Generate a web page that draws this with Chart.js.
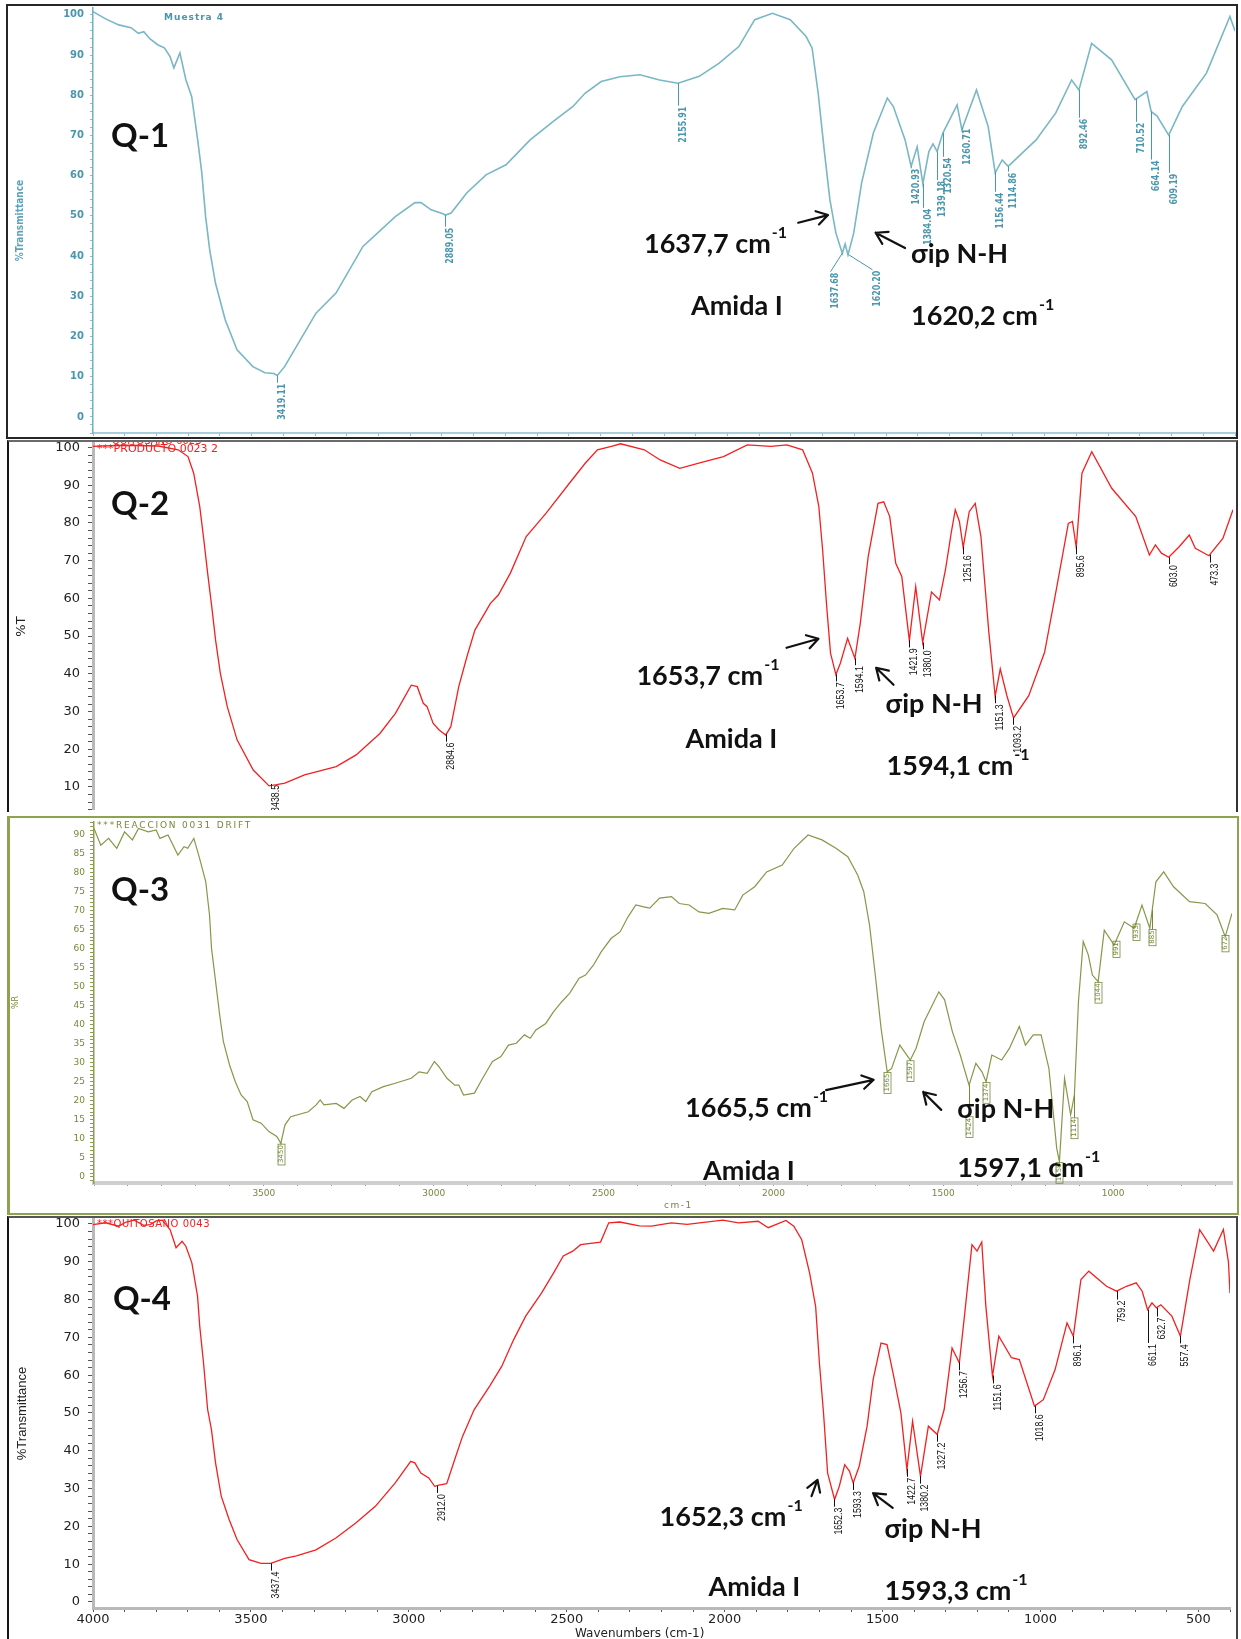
<!DOCTYPE html>
<html>
<head>
<meta charset="utf-8">
<script src="https://cdn.jsdelivr.net/npm/chart.js@4.4.1/dist/chart.umd.min.js"></script>
<style>
  html, body { margin: 0; padding: 0; background: #fff; }
  #page { position: relative; width: 1241px; height: 1639px; overflow: hidden; background: #fff; }
  .frame { position: absolute; box-sizing: border-box; }
  canvas { position: absolute; }
</style>
</head>
<body>
<div id="page">
  <div class="frame" style="left:6px;top:4px;width:1232px;height:435px;border:2px solid #262626;"></div>
  <div class="frame" style="left:7px;top:440px;width:1231px;height:372px;border-top:2px solid #6a6a6a;border-left:2px solid #151515;border-right:2px solid #333;"></div>
  <div class="frame" style="left:7px;top:816px;width:1232px;height:399px;border:2px solid #8ca34f;border-left-width:3px;"></div>
  <div class="frame" style="left:7px;top:1216px;width:1231px;height:430px;border-top:2px solid #555;border-left:2px solid #151515;border-right:2px solid #444;"></div>
</div>
<script>
// ---- spectra (wavenumber cm-1, %T) ----
const q1Wavenumber = [4000,3960,3919,3880,3857,3840,3820,3795,3775,3757,3745,3726,3707,3689,3670,3657,3645,3632,3614,3583,3546,3496,3458,3430,3419,3396,3346,3297,3234,3149,3047,2985,2966,2934,2897,2889,2871,2822,2761,2698,2622,2549,2487,2449,2398,2339,2276,2214,2156,2089,2026,1964,1914,1858,1802,1752,1733,1714,1695,1677,1658,1638,1629,1620,1602,1577,1540,1496,1477,1440,1421,1402,1384,1365,1352,1339,1321,1276,1261,1215,1178,1156,1134,1115,1027,965,915,892,852,789,715,678,664,646,609,566,490,416,400];
const q1Transmittance = [100.8,99.0,97.5,96.8,95.4,95.8,94.0,92.5,91.8,89.6,86.8,90.5,83.8,79.7,68.9,60.7,49.8,41.5,33.3,24.1,16.7,12.5,11.0,10.8,10.3,12.5,19.2,25.8,30.8,42.4,49.8,53.3,53.3,51.5,50.5,50.2,50.7,55.7,60.2,62.7,68.9,73.5,77.2,80.5,83.4,84.6,85.1,83.8,83.0,84.7,88.0,92.1,98.8,100.4,98.8,94.6,91.7,80.5,66.4,54.0,45.7,40.7,43.0,40.3,45.7,58.2,70.6,79.3,77.2,68.9,62.3,67.2,58.0,66.0,67.9,66.0,70.6,77.6,71.4,81.3,72.2,60.7,63.9,62.3,68.9,75.6,83.8,81.3,92.9,88.8,78.9,80.9,75.9,74.9,70.1,77.2,85.5,99.6,96.0];

const q2Wavenumber = [4000,3900,3794,3731,3700,3682,3663,3650,3638,3625,3613,3598,3576,3545,3494,3444,3420,3394,3332,3232,3169,3094,3045,2995,2976,2957,2945,2926,2907,2886,2870,2845,2819,2794,2745,2720,2682,2632,2569,2495,2445,2407,2363,2334,2259,2209,2147,2084,2009,1934,1859,1809,1759,1728,1708,1696,1683,1671,1654,1640,1617,1594,1577,1552,1521,1503,1484,1465,1446,1422,1402,1380,1352,1327,1308,1290,1277,1264,1252,1233,1214,1196,1171,1151,1135,1114,1093,1045,995,958,920,907,895,877,846,783,707,664,645,626,603,570,538,519,476,432,400];
const q2Transmittance = [100.3,100.6,100.4,99.4,97.6,93.2,84.4,75.5,66.7,57.8,49.0,40.2,31.3,22.5,14.5,10.3,10.6,11.0,13.2,15.4,18.5,24.2,29.5,37.0,36.6,32.2,31.3,26.9,25.1,23.8,26.0,36.6,44.6,51.6,58.7,60.9,66.7,76.4,82.6,90.6,95.9,99.4,100.3,101.0,99.4,96.7,94.5,95.9,97.6,100.7,100.3,100.7,99.4,93.2,84.4,72.9,57.8,45.5,39.8,42.8,49.4,44.1,53.4,71.1,85.2,85.6,81.7,69.3,65.8,48.8,63.1,48.3,61.7,59.6,67.6,77.3,83.5,80.4,73.5,83.0,85.2,76.4,51.0,34.0,41.3,34.2,28.3,34.2,45.7,62.3,79.9,80.4,73.5,93.2,98.9,89.2,81.7,71.5,74.2,72.0,70.9,73.7,76.8,73.3,71.3,75.9,83.5];

const q3Wavenumber = [4000,3980,3957,3933,3910,3887,3869,3840,3817,3806,3782,3753,3735,3724,3706,3689,3671,3660,3654,3642,3630,3619,3601,3584,3567,3549,3532,3508,3485,3462,3450,3438,3421,3369,3346,3334,3323,3287,3264,3240,3217,3200,3182,3148,3113,3066,3043,3019,2998,2984,2961,2938,2926,2912,2880,2856,2827,2802,2780,2757,2733,2716,2699,2670,2647,2623,2600,2572,2553,2530,2507,2478,2451,2428,2405,2382,2364,2335,2300,2277,2248,2219,2190,2149,2114,2090,2055,2020,1974,1939,1898,1857,1816,1781,1752,1734,1717,1700,1683,1665,1652,1628,1597,1580,1556,1513,1496,1473,1450,1424,1404,1386,1374,1357,1328,1305,1276,1258,1235,1212,1189,1166,1158,1143,1125,1114,1102,1088,1073,1061,1044,1026,997,967,938,915,892,874,851,822,775,729,694,670,650];
const q3Transmittance = [91.5,87.1,88.9,86.3,90.6,88.5,91.5,90.6,91.1,88.9,89.8,84.5,86.7,86.3,88.9,83.6,77.5,68.8,60.0,51.3,42.5,35.5,29.4,25.0,21.5,19.8,15.0,14.1,11.9,10.6,8.8,13.6,15.8,17.1,18.9,20.2,18.9,19.3,18.0,20.2,21.1,19.8,22.4,23.7,24.6,25.9,27.6,27.2,30.3,28.9,25.9,24.1,24.1,21.5,22.0,25.9,30.3,31.6,34.6,35.1,37.3,36.4,38.6,40.3,43.4,46.0,48.2,52.2,53.0,55.6,59.1,62.6,64.4,68.3,71.4,70.9,70.6,73.2,73.6,71.8,71.4,69.6,69.2,70.5,70.1,74.0,76.2,80.1,81.9,86.3,89.8,88.5,86.3,84.1,79.3,74.9,66.1,53.0,39.0,27.6,28.5,34.6,30.7,33.8,40.8,48.6,46.5,38.1,32.0,24.1,29.8,27.6,25.0,32.0,30.7,33.8,39.5,34.6,37.3,37.3,28.5,7.5,4.0,25.9,16.3,21.5,46.0,61.8,58.3,53.0,51.3,64.8,60.9,67.0,65.3,71.4,65.3,77.5,80.1,76.2,72.3,71.8,68.8,63.1,69.2];

const q4Wavenumber = [4000,3960,3919,3895,3869,3840,3819,3800,3781,3756,3737,3718,3706,3687,3669,3662,3650,3637,3625,3612,3594,3569,3544,3506,3468,3437,3393,3356,3294,3231,3168,3106,3043,2994,2981,2962,2937,2918,2905,2880,2855,2830,2793,2744,2706,2668,2630,2580,2542,2511,2481,2456,2393,2367,2332,2270,2232,2169,2119,2006,1956,1894,1862,1806,1781,1756,1731,1712,1700,1687,1674,1652,1637,1620,1605,1593,1574,1549,1530,1505,1486,1467,1442,1423,1405,1380,1355,1327,1305,1280,1257,1242,1217,1201,1186,1173,1152,1132,1092,1067,1019,991,954,916,896,872,847,791,759,728,697,678,661,647,633,619,584,557,527,496,452,421,405,400];
const q4Transmittance = [99.8,100.3,99.4,100.5,101.0,99.6,99.8,100.8,101.0,98.5,93.7,95.4,94.1,89.7,80.9,72.9,63.2,50.9,45.6,36.8,28.0,21.8,16.5,11.2,10.2,10.2,11.5,12.2,13.8,16.9,20.9,25.3,31.5,37.2,36.8,34.1,32.8,30.6,30.9,31.3,37.6,43.8,50.9,57.1,62.3,69.4,75.6,81.7,87.0,91.5,92.8,94.5,95.2,100.3,100.5,99.5,99.4,100.3,99.9,101.0,100.3,100.7,99.0,100.9,99.4,95.8,87.0,78.2,63.2,50.0,34.1,27.1,30.6,36.3,34.6,31.5,35.9,46.5,58.8,68.5,68.1,60.6,50.0,35.0,47.8,33.2,46.5,44.3,50.9,67.2,63.2,74.7,94.5,92.8,95.2,78.2,59.7,70.3,64.6,64.1,51.8,53.5,61.4,73.8,70.3,85.3,87.5,83.5,82.2,83.5,84.4,82.2,77.3,79.1,77.8,78.6,75.6,70.3,85.3,98.5,92.8,98.5,90.0,81.7];

// ---- peak picks (wavenumber) and where each vertical label starts (%T) ----
const q1Peaks = [3419.11,2889.05,2155.91,1637.68,1620.20,1420.93,1384.04,1339.18,1320.54,1260.71,1156.44,1114.86,892.46,710.52,664.14,609.19];
const q1PeakLabelTop = [8.5,47.3,77.4,36.1,36.6,62.0,52.0,58.9,64.7,71.9,56.0,61.0,74.4,73.4,64.0,60.7];
const q2Peaks = [3438.5,2884.6,1653.7,1594.1,1421.9,1380.0,1251.6,1151.3,1093.2,895.6,603.0,473.3];
const q2PeakLabelTop = [10.8,22.0,38.0,42.3,47.0,46.5,71.7,32.2,26.5,71.7,69.1,69.5];
const q3Peaks = [3450,1665,1597,1424,1374,1158,1114,1044,991,933,885,672];
const q3PeakLabelTop = [8.6,27.4,30.5,15.8,24.8,3.8,15.5,51.1,61.9,66.4,65.0,63.4];
const q4Peaks = [3437.4,2912.0,1652.3,1593.3,1422.7,1380.2,1327.2,1256.7,1151.6,1018.6,896.1,759.2,661.1,632.7,557.4];
const q4PeakLabelTop = [8.3,28.8,25.2,29.6,33.1,31.3,42.4,61.3,57.8,49.9,68.4,80.0,68.5,75.5,68.4];

// ---- tick labels ----
const yLabels100 = [0,10,20,30,40,50,60,70,80,90,100];
const q3YLabels = [0,5,10,15,20,25,30,35,40,45,50,55,60,65,70,75,80,85,90];
const q3XLabels = [3500,3000,2500,2000,1500,1000];
const q4XLabels = [4000,3500,3000,2500,2000,1500,1000,500];

Chart.defaults.font.family = '"DejaVu Sans", sans-serif';

function stepTicks(min, max, step) {
  const out = [];
  for (let v = Math.ceil(min / step - 1e-9) * step; v <= max + 1e-9; v += step) {
    out.push({ value: Math.round(v * 1000) / 1000 });
  }
  return out;
}

function valueAt(wn, t, x) {
  for (let i = 0; i < wn.length - 1; i++) {
    if (x <= wn[i] && x >= wn[i + 1]) {
      const f = (wn[i] - x) / (wn[i] - wn[i + 1]);
      return t[i] + f * (t[i + 1] - t[i]);
    }
  }
  return t[t.length - 1];
}

// draws annotations, peak labels and header texts through the chart scales
function overlay(p) {
  return {
    id: 'overlay_' + p.id,
    afterDraw(chart) {
      const { ctx } = chart;
      const px = v => chart.scales.x.getPixelForValue(v);
      const py = v => chart.scales.y.getPixelForValue(v);
      ctx.save();

      // peak picks
      p.peaks.forEach((wn, i) => {
        const cx = Math.round(px(wn)) + 0.5;
        const shift = (p.labelShift && p.labelShift[i]) || 0;
        const yCurve = py(valueAt(p.wn, p.t, wn));
        const yLab = py(p.peakTop[i]);
        ctx.strokeStyle = p.peak.color;
        ctx.lineWidth = 1;
        ctx.beginPath();
        ctx.moveTo(cx, yCurve);
        ctx.lineTo(cx + shift, yLab);
        ctx.stroke();
        ctx.save();
        ctx.translate(cx + shift + p.peak.dx, yLab + 1);
        ctx.rotate(-Math.PI / 2);
        ctx.scale(p.peak.squash, 1);
        ctx.font = p.peak.font;
        ctx.fillStyle = p.peak.color;
        ctx.textAlign = 'right';
        ctx.textBaseline = 'middle';
        const txt = p.peak.format(wn);
        ctx.fillText(txt, 0, 0);
        if (p.peak.box) {
          const w = ctx.measureText(txt).width;
          ctx.lineWidth = 0.8;
          ctx.strokeRect(-w - 2, -3.5, w + 3, 7);
        }
        ctx.restore();
      });

      // small header / axis texts
      p.texts.forEach(tx => {
        ctx.font = tx.font;
        ctx.fillStyle = tx.color;
        ctx.textAlign = tx.align || 'left';
        ctx.textBaseline = 'alphabetic';
        ctx.letterSpacing = tx.spacing || '0px';
        ctx.fillText(tx.text, px(tx.x), py(tx.y));
        ctx.letterSpacing = '0px';
      });

      // bold black notes
      p.notes.forEach(n => {
        ctx.font = `bold ${n.size}px Lato, "Open Sans", sans-serif`;
        ctx.fillStyle = '#111';
        ctx.textAlign = 'left';
        ctx.textBaseline = 'alphabetic';
        const nx = px(n.x), ny = py(n.y);
        ctx.fillText(n.text, nx, ny);
        if (n.sup) {
          const w = ctx.measureText(n.text).width;
          ctx.font = `bold ${Math.round(n.size * 0.6)}px Lato, "Open Sans", sans-serif`;
          ctx.fillText(n.sup, nx + w + 1, ny - n.size * 0.55);
        }
      });

      // arrows
      ctx.strokeStyle = '#111';
      ctx.lineWidth = 2.2;
      ctx.lineCap = 'round';
      p.arrows.forEach(a => {
        const x1 = px(a.x1), y1 = py(a.y1), x2 = px(a.x2), y2 = py(a.y2);
        const ang = Math.atan2(y2 - y1, x2 - x1);
        ctx.beginPath();
        ctx.moveTo(x1, y1);
        ctx.lineTo(x2, y2);
        [-0.55, 0.55].forEach(d => {
          ctx.moveTo(x2, y2);
          ctx.lineTo(x2 - 13 * Math.cos(ang + d), y2 - 13 * Math.sin(ang + d));
        });
        ctx.stroke();
      });
      ctx.restore();
    }
  };
}

function yScale(p, o) {
  return {
    type: 'linear', min: p.yMin, max: p.yMax,
    afterBuildTicks: s => { s.ticks = stepTicks(p.yMin, p.yMax, o.step); },
    afterFit: s => { s.width = p.yWidth; s.paddingTop = 0; s.paddingBottom = 0; },
    ticks: {
      autoSkip: false, padding: o.pad, color: o.color, font: o.font,
      callback: v => (o.labels.includes(v) ? String(v) : '')
    },
    grid: { drawOnChartArea: false, drawTicks: true, tickLength: o.tickLen, tickColor: o.tickColor, tickWidth: 1 },
    border: { display: true, color: o.axisColor, width: o.axisWidth, dash: o.dash || [] },
    title: { display: true, text: o.title, color: o.titleColor, font: o.titleFont, padding: { top: o.titlePad, bottom: 0 } }
  };
}

function xScale(p, o) {
  return {
    type: 'linear', reverse: true, min: p.xMin, max: p.xMax, display: o.display !== false,
    afterBuildTicks: s => { s.ticks = stepTicks(p.xMin, p.xMax, 100); },
    afterFit: s => { s.height = p.xHeight; s.paddingLeft = 0; s.paddingRight = 0; },
    ticks: {
      autoSkip: false, maxRotation: 0, minRotation: 0, padding: o.pad || 0, color: o.color || '#222', font: o.font,
      callback: v => (o.labels.includes(v) ? String(v) : '')
    },
    grid: { drawOnChartArea: false, drawTicks: true, tickLength: o.tickLen || 3, tickColor: o.tickColor || '#444', tickWidth: 1 },
    border: { display: true, color: o.axisColor || '#bbb', width: o.axisWidth || 2 }
  };
}

function makeChart(p) {
  const canvas = document.createElement('canvas');
  canvas.width = p.box.width;
  canvas.height = p.box.height;
  canvas.style.left = p.box.left + 'px';
  canvas.style.top = p.box.top + 'px';
  canvas.style.width = p.box.width + 'px';
  canvas.style.height = p.box.height + 'px';
  document.getElementById('page').appendChild(canvas);
  const points = p.wn.map((w, i) => ({ x: w, y: p.t[i] }));
  return new Chart(canvas, {
    type: 'line',
    data: { datasets: [{ data: points, borderColor: p.line, borderWidth: p.lineWidth, pointRadius: 0, tension: 0, fill: false }] },
    options: {
      responsive: false, animation: false, devicePixelRatio: 1, events: [],
      layout: { padding: p.pad },
      plugins: { legend: { display: false }, tooltip: { enabled: false } },
      scales: { x: xScale(p, p.xOpts), y: yScale(p, p.yOpts) }
    },
    plugins: [overlay(p)]
  });
}

const TEAL = '#4a96ad';
const OLIVE = '#74893a';
const RED = '#f42020';
const omnicPeak = { color: '#111', font: '11px "Liberation Sans Narrow", "Liberation Sans", sans-serif', squash: 0.8, dx: 4, format: v => v.toFixed(1) };
const omnicY = {
  step: 2, labels: yLabels100, pad: 8, color: '#222', font: { family: '"DejaVu Sans"', size: 13 },
  tickLen: 5, tickColor: '#555', axisColor: '#b9b9b9', axisWidth: 3
};

// Q-1
makeChart({
  id: 'q1', box: { left: 8, top: 7, width: 1229, height: 429 }, yWidth: 85, xHeight: 3,
  pad: { top: 1, right: 2, bottom: 0, left: 0 },
  xMin: 400, xMax: 4000, yMin: -4, yMax: 101.7,
  wn: q1Wavenumber, t: q1Transmittance, line: '#79b7c6', lineWidth: 1.6,
  xOpts: { labels: [], tickLen: 3, tickColor: '#8cc0cf', axisColor: '#a9cfda', axisWidth: 2 },
  yOpts: {
    step: 2, labels: yLabels100, pad: 6, color: TEAL, font: { family: '"DejaVu Sans"', size: 10, weight: 'bold' },
    tickLen: 3, tickColor: '#8cc0cf', axisColor: '#6fb0c2', axisWidth: 1.5, dash: [2, 2],
    title: '%Transmittance', titleColor: '#5aa3b8', titleFont: { family: '"DejaVu Sans Condensed", "Liberation Sans Narrow", sans-serif', size: 10, weight: 'bold' }, titlePad: 6
  },
  peaks: q1Peaks, peakTop: q1PeakLabelTop, labelShift: [0, 0, 0, -12, 24, 0, 0, 0, 0, 0, 0, 0, 0, 0, 0, 0],
  peak: { color: TEAL, font: 'bold 11px "DejaVu Sans", sans-serif', squash: 0.72, dx: 5, format: v => v.toFixed(2) },
  texts: [{ text: 'Muestra 4', x: 3776, y: 98.8, font: 'bold 9px "DejaVu Sans", sans-serif', color: TEAL, spacing: '1px' }],
  notes: [
    { text: 'Q-1', x: 3943, y: 67.2, size: 33 },
    { text: '1637,7 cm', sup: '-1', x: 2263, y: 40.8, size: 27 },
    { text: 'σip N-H', x: 1421, y: 38.3, size: 27 },
    { text: 'Amida I', x: 2115, y: 25.4, size: 27 },
    { text: '1620,2 cm', sup: '-1', x: 1421, y: 22.9, size: 27 }
  ],
  arrows: [{ x1: 1777, y1: 48.3, x2: 1683, y2: 50.2 }, { x1: 1440, y1: 42.0, x2: 1533, y2: 45.8 }]
});

// Q-2
makeChart({
  id: 'q2', box: { left: 9, top: 442, width: 1227, height: 368 }, yWidth: 84, xHeight: 0,
  pad: { top: 1, right: 3, bottom: 0, left: 0 },
  xMin: 400, xMax: 4000, yMin: 3.9, yMax: 101.2,
  wn: q2Wavenumber, t: q2Transmittance, line: RED, lineWidth: 1.3,
  xOpts: { display: false, labels: [] },
  yOpts: Object.assign({}, omnicY, { title: '%T', titleColor: '#222', titleFont: { family: '"DejaVu Sans"', size: 13 }, titlePad: 5 }),
  peaks: q2Peaks, peakTop: q2PeakLabelTop, peak: omnicPeak,
  texts: [
    { text: '***QUITOSANO 0023', x: 3987, y: 100.9, font: '10px "DejaVu Sans", sans-serif', color: RED },
    { text: '***PRODUCTO 0023 2', x: 3987, y: 98.9, font: '11px "DejaVu Sans", sans-serif', color: RED }
  ],
  notes: [
    { text: 'Q-2', x: 3943, y: 82.1, size: 33 },
    { text: '1653,7 cm', sup: '-1', x: 2284, y: 37.1, size: 27 },
    { text: 'σip N-H', x: 1497, y: 29.6, size: 27 },
    { text: 'Amida I', x: 2129, y: 20.3, size: 27 },
    { text: '1594,1 cm', sup: '-1', x: 1494, y: 13.2, size: 27 }
  ],
  arrows: [{ x1: 1810, y1: 46.9, x2: 1709, y2: 49.3 }, { x1: 1472, y1: 37.1, x2: 1527, y2: 41.6 }]
});

// Q-3
makeChart({
  id: 'q3', box: { left: 10, top: 819, width: 1226, height: 394 }, yWidth: 84, xHeight: 30,
  pad: { top: 3, right: 4, bottom: 0, left: 0 },
  xMin: 650, xMax: 4000, yMin: -1.6, yMax: 93.2,
  wn: q3Wavenumber, t: q3Transmittance, line: '#84984a', lineWidth: 1.2,
  xOpts: { labels: q3XLabels, pad: 2, color: OLIVE, font: { family: '"DejaVu Sans"', size: 9 }, tickLen: 3, tickColor: '#999', axisColor: '#cfcfcf', axisWidth: 4 },
  yOpts: {
    step: 1, labels: q3YLabels, pad: 5, color: OLIVE, font: { family: '"DejaVu Sans"', size: 9 },
    tickLen: 4, tickColor: '#8a9d52', axisColor: '#8a9d52', axisWidth: 1.5, dash: [1, 1],
    title: '%R', titleColor: OLIVE, titleFont: { family: '"DejaVu Sans"', size: 8 }, titlePad: 1
  },
  peaks: q3Peaks, peakTop: q3PeakLabelTop,
  peak: { color: OLIVE, font: '7px "DejaVu Sans", sans-serif', squash: 1, dx: 0, box: true, format: v => String(Math.round(v)) },
  texts: [
    { text: '***REACCION 0031 DRIFT', x: 3991, y: 91.6, font: '9px "DejaVu Sans", sans-serif', color: OLIVE, spacing: '1.8px' },
    { text: 'cm-1', x: 2322, y: -8.1, font: '9px "DejaVu Sans", sans-serif', color: OLIVE, spacing: '1.5px' }
  ],
  notes: [
    { text: 'Q-3', x: 3950, y: 72.4, size: 33 },
    { text: '1665,5 cm', sup: '-1', x: 2260, y: 15.7, size: 27 },
    { text: 'σip N-H', x: 1459, y: 15.5, size: 27 },
    { text: 'Amida I', x: 2207, y: -0.8, size: 27 },
    { text: '1597,1 cm', sup: '-1', x: 1459, y: 0, size: 27 }
  ],
  arrows: [{ x1: 1845, y1: 22.8, x2: 1705, y2: 25.5 }, { x1: 1506, y1: 17.6, x2: 1559, y2: 22.3 }]
});

// Q-4
makeChart({
  id: 'q4', box: { left: 9, top: 1218, width: 1227, height: 421 }, yWidth: 84, xHeight: 31,
  pad: { top: 1, right: 6, bottom: 0, left: 0 },
  xMin: 400, xMax: 4000, yMin: -1.6, yMax: 101.3,
  wn: q4Wavenumber, t: q4Transmittance, line: RED, lineWidth: 1.3,
  xOpts: { labels: q4XLabels, pad: 0, color: '#222', font: { family: '"DejaVu Sans"', size: 13 }, tickLen: 4, tickColor: '#555', axisColor: '#b9b9b9', axisWidth: 3 },
  yOpts: Object.assign({}, omnicY, { title: '%Transmittance', titleColor: '#222', titleFont: { family: '"Liberation Sans Narrow", sans-serif', size: 13 }, titlePad: 6 }),
  peaks: q4Peaks, peakTop: q4PeakLabelTop, peak: omnicPeak,
  texts: [
    { text: '***QUITOSANO 0043', x: 3987, y: 99.2, font: '10px "DejaVu Sans", sans-serif', color: RED, spacing: '0.5px' },
    { text: 'Wavenumbers (cm-1)', x: 2269, y: -9.3, font: '12px "DejaVu Sans", sans-serif', color: '#222', align: 'center' }
  ],
  notes: [
    { text: 'Q-4', x: 3937, y: 77.2, size: 33 },
    { text: '1652,3 cm', sup: '-1', x: 2206, y: 20.1, size: 27 },
    { text: 'σip N-H', x: 1494, y: 16.9, size: 27 },
    { text: 'Amida I', x: 2051, y: 1.6, size: 27 },
    { text: '1593,3 cm', sup: '-1', x: 1494, y: 0.5, size: 27 }
  ],
  arrows: [{ x1: 1725, y1: 28.0, x2: 1706, y2: 32.3 }, { x1: 1468, y1: 24.9, x2: 1530, y2: 28.8 }]
});
</script>
</body>
</html>
